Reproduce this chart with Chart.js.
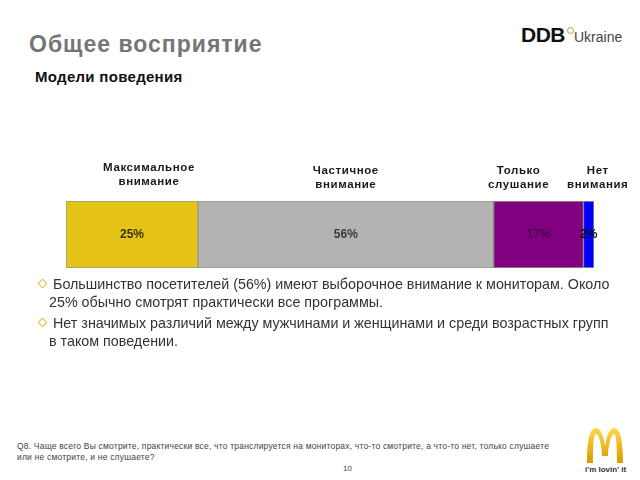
<!DOCTYPE html>
<html>
<head>
<meta charset="utf-8">
<script src="https://cdn.jsdelivr.net/npm/chart.js@4/dist/chart.umd.min.js"></script>
<style>
  html, body { margin: 0; padding: 0; background: #fff; }
  body { width: 640px; height: 480px; position: relative; overflow: hidden;
         font-family: "Liberation Sans", Arial, sans-serif; }
  .abs { position: absolute; white-space: nowrap; }
  #title { left: 29px; top: 31px; font-size: 23px; font-weight: bold; color: #757575; letter-spacing: 1px; }
  #subtitle { left: 35px; top: 68px; font-size: 15px; font-weight: bold; color: #111; letter-spacing: 0.3px; }
  #logo { left: 521px; top: 23px; }
  #logo .ddb { font-size: 21px; font-weight: bold; color: #111; letter-spacing: -0.5px; }
  #logo .deg { position: absolute; left: 46px; top: 4px; width: 5px; height: 5px;
               border: 1.5px solid #b8a040; border-radius: 50%; }
  #logo .ukr { font-family: "Liberation Sans Narrow", "Liberation Sans", sans-serif;
               font-size: 14px; color: #444; margin-left: 9px; }
  #chart-wrap { position: absolute; left: 0; top: 150px; width: 640px; height: 130px; }
  .bullets { position: absolute; left: 38px; top: 276px; width: 578px;
             font-family: "Liberation Sans Narrow", "Liberation Sans", sans-serif;
             font-size: 14.3px; color: #333; line-height: 17.5px; }
  .bullets p { margin: 0 0 4px 0; padding-left: 11px; text-indent: -11px; }
  .bullets .dia { display: inline-block; width: 5px; height: 5px; border: 1px solid #e0c040;
                  transform: rotate(45deg); margin-right: 7px; margin-left: 1px; vertical-align: 2px; }
  #foot { left: 17px; top: 441px; font-size: 8.5px; color: #444; line-height: 11px; letter-spacing: 0.2px; }
  #pnum { left: 343px; top: 464px; font-size: 8px; color: #444; }
  #mc { left: 585px; top: 426px; }
  #mc .slogan { position: absolute; left: 0px; top: 39px; font-size: 8px; font-weight: bold; color: #333; }
</style>
</head>
<body>

<div id="title" class="abs">Общее восприятие</div>
<div id="subtitle" class="abs">Модели поведения</div>
<div id="logo" class="abs"><span class="ddb">DDB</span><span class="deg"></span><span class="ukr">Ukraine</span></div>

<div id="chart-wrap"><canvas id="bar" width="640" height="130"></canvas></div>

<div class="bullets">
  <p><span class="dia"></span>Большинство посетителей (56%) имеют выборочное внимание к мониторам. Около 25% обычно смотрят практически все программы.</p>
  <p><span class="dia"></span>Нет значимых различий между мужчинами и женщинами и среди возрастных групп в таком поведении.</p>
</div>

<div id="foot" class="abs">Q8. Чаще всего Вы смотрите, практически все, что транслируется на мониторах, что-то смотрите, а что-то нет, только слушаете<br>или не смотрите, и не слушаете?</div>
<div id="pnum" class="abs">10</div>
<div id="mc" class="abs">
  <svg width="40" height="38" viewBox="0 0 40 38">
    <defs>
      <linearGradient id="g" x1="0" y1="0" x2="0" y2="1">
        <stop offset="0" stop-color="#ffd84a"/>
        <stop offset="1" stop-color="#d99a00"/>
      </linearGradient>
    </defs>
    <path d="M2 37 C2 10 6 2 11 2 C16 2 19 12 20 20 C21 12 24 2 29 2 C34 2 38 10 38 37 L32 37 C32 16 31 8 29 8 C26 8 23 20 23 30 L17 30 C17 20 14 8 11 8 C9 8 8 16 8 37 Z" fill="url(#g)"/>
  </svg>
  <div class="slogan">i'm lovin' it</div>
</div>

<script>
"use strict";

// ── 데이터 ────────────────────────────────────────────
const categories = [
  ["Максимальное", "внимание"],
  ["Частичное", "внимание"],
  ["Только", "слушание"],
  ["Нет", "внимания"],
];
const values = [25, 56, 17, 2];
const colors = ["#e6c417", "#b3b3b3", "#800080", "#0000ff"];
const valueColors = ["#3b3300", "#3a3a3a", "#4a0050", "#111111"];

// category header placement tweaks (px), like the hand-placed slide labels
const headShift = [17, 0, -20, 9];
const headRaise = [3, 0, 0, 0];

const headerPlugin = {
  id: "headers",
  afterDatasetsDraw(chart) {
    const ctx = chart.ctx;
    ctx.save();
    ctx.textAlign = "center";
    ctx.textBaseline = "middle";
    chart.data.datasets.forEach((ds, i) => {
      const bar = chart.getDatasetMeta(i).data[0];
      const cx = (bar.base + bar.x) / 2;
      // value in the middle of the segment
      ctx.letterSpacing = "0px";
      ctx.font = "bold 12px 'Liberation Sans', Arial, sans-serif";
      ctx.fillStyle = valueColors[i];
      ctx.fillText(values[i] + "%", cx, bar.y);
      // header above the bar
      ctx.letterSpacing = "0.6px";
      ctx.font = "bold 11.5px 'Liberation Sans', Arial, sans-serif";
      ctx.fillStyle = "#1a1a1a";
      categories[i].forEach((line, k) => {
        ctx.fillText(line, cx + headShift[i], 21 - headRaise[i] + k * 14);
      });
    });
    ctx.restore();
  },
};

new Chart(document.getElementById("bar").getContext("2d"), {
  type: "bar",
  data: {
    labels: [""],
    datasets: values.map((v, i) => ({
      label: categories[i].join(" "),
      data: [v],
      backgroundColor: colors[i],
      borderColor: "rgba(70,70,50,0.55)",
      borderWidth: 1,
      borderSkipped: false,
      barPercentage: 1,
      categoryPercentage: 1,
    })),
  },
  options: {
    indexAxis: "y",
    responsive: false,
    animation: false,
    layout: { padding: { left: 66, right: 46, top: 51, bottom: 12 } },
    plugins: { legend: { display: false }, tooltip: { enabled: false } },
    scales: {
      x: { stacked: true, min: 0, max: 100, display: false },
      y: { stacked: true, display: false },
    },
  },
  plugins: [headerPlugin],
});
</script>
</body>
</html>
